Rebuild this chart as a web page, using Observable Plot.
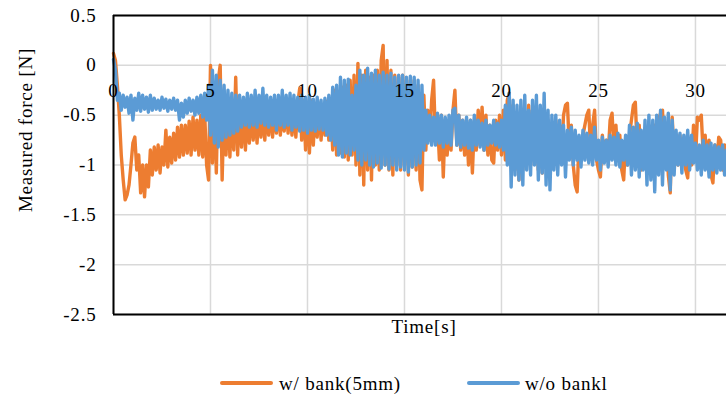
<!DOCTYPE html>
<html>
<head>
<meta charset="utf-8">
<script src="https://cdn.jsdelivr.net/npm/d3@7"></script>
<script src="https://cdn.jsdelivr.net/npm/@observablehq/plot@0.6"></script>
<style>
  html, body { margin: 0; padding: 0; background: #fff; }
  #chart svg text { letter-spacing: 0.8px; }
  #legend { position: relative; width: 726px; height: 56px; font-family: "Liberation Serif", serif; font-size: 19px; letter-spacing: 0.8px; color: #000; }
  #legend .sw { position: absolute; height: 4px; border-radius: 2px; }
  #legend .lb { position: absolute; line-height: 22px; white-space: nowrap; }
</style>
</head>
<body>
<div id="chart"></div>
<div id="legend"></div>
<script>
// Sampling step of the series [s]
const dt = 0.1;
const xTicks = [0, 5, 10, 15, 20, 25, 30];
const yTicks = [0.5, 0, -0.5, -1, -1.5, -2, -2.5];
const seriesNames = ["w/ bank(5mm)", "w/o bankl"];
const seriesColors = ["#ED7D31", "#5B9BD5"];

// w/ bank(5mm), t = 0.0 ... 31.6 s
const withBank = [
  0.12, 0.05, -0.2, -0.5, -0.9, -1.15, -1.35, -1.3, -1.2, -1.0,
  -0.78, -0.72, -1.05, -0.9, -1.28, -1.0, -1.32, -1.0, -1.22, -0.85,
  -1.1, -0.82, -1.05, -0.8, -1.08, -0.82, -1.0, -0.65, -1.02, -0.72,
  -0.98, -0.68, -0.95, -0.62, -0.92, -0.6, -0.9, -0.6, -0.88, -0.56,
  -0.9, -0.52, -0.85, -0.55, -0.9, -0.5, -0.92, -0.48, -1.0, -1.15,
  0.0, -0.98, -0.3, -1.08, -0.15, 0.0, -1.15, -0.4, -0.9, -0.35,
  -0.92, -0.4, -0.85, -0.12, -0.9, -0.35, -0.82, -0.4, -0.85, -0.45,
  -0.78, -0.42, -0.75, -0.45, -0.78, -0.4, -0.72, -0.45, -0.75, -0.42,
  -0.7, -0.4, -0.72, -0.42, -0.68, -0.4, -0.7, -0.44, -0.66, -0.4,
  -0.68, -0.42, -0.7, -0.4, -0.72, -0.38, -0.23, -0.75, -0.35, -0.85,
  -0.4, -0.88, -0.35, -0.8, -0.4, -0.72, -0.38, -0.75, -0.42, -0.7,
  -0.36, -0.75, -0.4, -0.85, -0.25, -0.9, -0.3, -0.88, -0.22, -0.92,
  -0.2, -0.95, -0.15, -0.9, -0.1, -1.0, 0.02, -1.1, -0.1, -1.2,
  -0.05, -1.05, -0.12, -1.15, -0.1, -1.0, -0.05, -1.05, 0.05, 0.2,
  -1.0, 0.05, -1.05, -0.05, -1.1, -0.1, -1.0, -0.12, -1.05, -0.1,
  -1.0, -0.15, -1.1, -0.15, -1.02, -0.15, -1.05, -0.2, -1.15, -1.25,
  -0.3, -0.85, -0.45, -0.75, -0.35, -0.15, -0.75, -0.55, -0.95, -0.5,
  -1.12, -0.55, -0.9, -0.6, -0.85, -0.45, -0.25, -0.8, -0.5, -0.85,
  -0.55, -0.9, -0.6, -1.0, -0.55, -1.08, -0.6, -0.85, -0.45, -0.8,
  -0.42, -0.85, -0.5, -0.9, -0.6, -0.95, -0.98, -0.55, -0.85, -0.5,
  -0.9, -0.45, -0.95, -0.35, -0.28, -1.0, -0.4, -1.05, -0.5, -1.15,
  -0.45, -1.05, -0.5, -0.95, -0.4, -1.0, -0.45, -0.95, -0.5, -1.05,
  -0.55, -1.08, -0.5, -1.0, -0.55, -0.95, -0.6, -0.9, -0.55, -0.95,
  -0.6, -0.92, -0.5, -0.4, -0.38, -0.85, -0.6, -1.0, -1.2, -1.27,
  -0.75, -0.95, -0.7, -0.6, -0.5, -0.45, -0.9, -0.6, -0.45, -0.95,
  -1.05, -1.12, -0.7, -0.95, -0.75, -0.9, -0.55, -0.48, -0.85, -0.6,
  -0.95, -0.7, -1.05, -1.15, -0.75, -1.0, -0.7, -0.55, -0.4, -0.37,
  -0.85, -0.6, -1.05, -0.75, -1.0, -0.7, -0.95, -0.65, -0.9, -0.6,
  -0.95, -0.55, -0.48, -0.45, -0.9, -0.65, -1.1, -1.28, -0.52, -0.9,
  -0.7, -1.0, -0.7, -0.95, -0.75, -1.05, -1.13, -0.75, -1.0, -0.6,
  -0.95, -0.52, -0.55, -0.5, -0.9, -0.7, -1.0, -0.75, -1.1, -1.18,
  -0.8, -1.0, -0.72, -0.75, -1.05, -0.8, -1.1
];

// w/o bankl, t = 0.0 ... 31.6 s
const withoutBank = [
  0.06, -0.05, -0.35, -0.28, -0.45, -0.3, -0.42, -0.32, -0.48, -0.3,
  -0.55, -0.33, -0.45, -0.28, -0.46, -0.3, -0.44, -0.32, -0.47, -0.3,
  -0.45, -0.33, -0.44, -0.35, -0.45, -0.32, -0.43, -0.34, -0.46, -0.35,
  -0.44, -0.33, -0.45, -0.35, -0.55, -0.38, -0.52, -0.35, -0.48, -0.33,
  -0.46, -0.35, -0.5, -0.32, -0.48, -0.3, -0.52, -0.28, -0.55, -0.2,
  -0.7, -0.05, -0.78, -0.1, -0.82, -0.15, -0.75, -0.2, -0.72, -0.25,
  -0.7, -0.28, -0.68, -0.3, -0.66, -0.3, -0.62, -0.32, -0.6, -0.28,
  -0.62, -0.3, -0.6, -0.25, -0.62, -0.3, -0.58, -0.23, -0.6, -0.3,
  -0.62, -0.32, -0.6, -0.3, -0.65, -0.3, -0.6, -0.25, -0.62, -0.3,
  -0.6, -0.28, -0.65, -0.3, -0.62, -0.32, -0.66, -0.3, -0.65, -0.32,
  -0.68, -0.3, -0.65, -0.34, -0.66, -0.32, -0.64, -0.35, -0.65, -0.33,
  -0.7, -0.3, -0.75, -0.22, -0.8, -0.2, -0.9, -0.12, -0.92, -0.15,
  -0.88, -0.14, -0.9, -0.3, -0.85, -0.2, -0.95, -0.05, -1.0, -0.1,
  -0.95, -0.03, -1.0, -0.08, -1.02, -0.05, -0.98, -0.1, -1.03, -0.07,
  -1.0, -0.1, -1.04, -0.08, -1.0, -0.12, -1.05, -0.1, -1.02, -0.1,
  -1.05, -0.12, -1.07, -0.11, -1.02, -0.12, -1.0, -0.15, -0.98, -0.2,
  -0.85, -0.45, -0.78, -0.5, -0.8, -0.52, -0.8, -0.48, -0.78, -0.5,
  -0.82, -0.52, -0.78, -0.5, -0.8, -0.45, -0.43, -0.8, -0.5, -0.82,
  -0.55, -0.8, -0.52, -0.83, -0.55, -0.85, -0.5, -0.8, -0.55, -0.82,
  -0.58, -0.85, -0.55, -0.8, -0.6, -0.78, -0.55, -0.8, -0.58, -0.82,
  -0.55, -0.85, -0.4, -1.0, -0.28, -1.22, -0.35, -1.1, -0.4, -1.15,
  -0.35, -1.2, -0.3, -1.05, -0.45, -1.1, -0.35, -1.0, -0.3, -1.15,
  -0.4, -1.08, -0.28, -1.2, -0.45, -1.25, -0.5, -1.05, -0.5, -1.1,
  -0.55, -1.0, -0.6, -1.12, -0.65, -0.95, -0.62, -1.0, -0.65, -0.95,
  -0.7, -1.02, -0.65, -0.95, -0.68, -0.98, -0.7, -1.0, -0.62, -0.95,
  -0.75, -1.05, -0.72, -0.98, -0.75, -1.02, -0.7, -0.95, -0.72, -1.0,
  -0.68, -1.02, -0.75, -0.95, -0.7, -1.0, -0.6, -1.1, -0.62, -1.05,
  -0.58, -1.12, -0.65, -1.05, -0.55, -1.2, -0.5, -1.15, -0.55, -1.27,
  -0.5, -1.1, -0.45, -1.2, -0.52, -1.05, -0.48, -1.25, -0.55, -1.1,
  -0.65, -1.0, -0.68, -1.08, -0.7, -1.0, -0.65, -1.05, -0.7, -0.98,
  -0.78, -1.05, -0.8, -1.1, -0.75, -1.05, -0.8, -1.12, -0.78, -1.05,
  -0.8, -1.08, -0.82, -1.05, -0.8, -1.1, -0.85
];

const toRows = (arr) => arr.map((v, i) => ({ t: i * dt, v }));
const rowsA = toRows(withBank);
const rowsB = toRows(withoutBank);
const tMax = (withBank.length - 1) * dt;

const font = "Liberation Serif, serif";

const chart = Plot.plot({
  width: 726,
  height: 345,
  marginLeft: 113,
  marginRight: 0,
  marginTop: 15,
  marginBottom: 31,
  style: { fontFamily: font, fontSize: "19px", color: "#000", background: "#fff", overflow: "visible" },
  x: { domain: [0, tMax], axis: null },
  y: { domain: [-2.5, 0.5], axis: null },
  marks: [
    Plot.gridY(yTicks, { stroke: "#d9d9d9", strokeOpacity: 1, strokeWidth: 1.5 }),
    Plot.gridX(xTicks, { stroke: "#d9d9d9", strokeOpacity: 1, strokeWidth: 1.5 }),
    Plot.axisY(yTicks, { tickSize: 0, tickPadding: 17, tickFormat: (d) => String(d), fontSize: 19, label: null }),
    Plot.lineY(rowsA, { x: "t", y: "v", stroke: seriesColors[0], strokeWidth: 3.4 }),
    Plot.lineY(rowsB, { x: "t", y: "v", stroke: seriesColors[1], strokeWidth: 3.4 }),
    Plot.ruleY([0.5, -2.5], { stroke: "#000", strokeWidth: 2 }),
    Plot.ruleX([0], { stroke: "#000", strokeWidth: 2 }),
    Plot.text(xTicks, { x: (d) => d, y: 0, dy: 26, text: (d) => String(d), fontSize: 19 }),
    Plot.text(["Time[s]"], { frameAnchor: "bottom", dy: 18, dx: 4, fontSize: 19 }),
    Plot.text(["Measured force [N]"], { frameAnchor: "left", textAnchor: "middle", rotate: -90, dx: -88, dy: -35, fontSize: 19, style: "word-spacing:4px" })
  ]
});
document.getElementById("chart").appendChild(chart);

// legend below the SVG
const legend = document.getElementById("legend");
const legendItems = [
  { swLeft: 220, lbLeft: 279 },
  { swLeft: 467, lbLeft: 525 }
];
legendItems.forEach((it, i) => {
  const sw = document.createElement("span");
  sw.className = "sw";
  sw.style.left = it.swLeft + "px";
  sw.style.top = "36px";
  sw.style.width = "53px";
  sw.style.background = seriesColors[i];
  legend.appendChild(sw);
  const lb = document.createElement("span");
  lb.className = "lb";
  lb.style.left = it.lbLeft + "px";
  lb.style.top = "28px";
  lb.textContent = seriesNames[i];
  legend.appendChild(lb);
});
</script>
</body>
</html>
